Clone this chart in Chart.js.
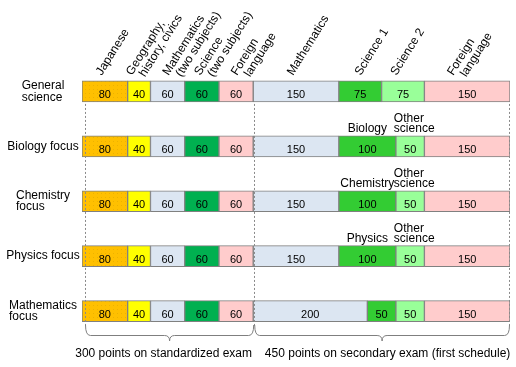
<!DOCTYPE html>
<html><head><meta charset="utf-8">
<script src="https://cdn.jsdelivr.net/npm/chart.js@4.4.1/dist/chart.umd.min.js"></script>
<style>html,body{margin:0;padding:0;background:#fff;}#wrap{width:516px;height:367px;}</style>
</head><body><div id="wrap"><canvas id="c"></canvas></div>
<script>
// ---- data ----
const categories = [["General","science"],["Biology focus"],["Chemistry","focus"],["Physics focus"],["Mathematics","focus"]];
const subjects = ["Japanese","Geography,\nhistory, civics","Mathematics\n(two subjects)","Science\n(two subjects)","Foreign\nlanguage","Mathematics","Science 1","Science 2","Foreign\nlanguage"];
const japanese   = [80,80,80,80,80];
const geography  = [40,40,40,40,40];
const mathCommon = [60,60,60,60,60];
const sciCommon  = [60,60,60,60,60];
const forCommon  = [60,60,60,60,60];
const mathSecond = [150,150,150,150,200];
const sciFirst   = [75,100,100,100,50];
const sciSecond  = [75,50,50,50,50];
const forSecond  = [150,150,150,150,150];
const sciFirstNames  = ["","Biology","Chemistry","Physics",""];
const sciSecondNames = ["","Other\nscience","Other\nscience","Other\nscience",""];
const groupTotals = [300,450];
const groupLabels = ["300 points on standardized exam","450 points on secondary exam (first schedule)"];

// ---- styles ----
const FONT = "'Liberation Sans', Arial, sans-serif";
const topLabelDx = [-3,-7,1,-1.5,1,-3,0.5,-6.5,-14];
function makePattern(){
  const c=document.createElement('canvas'); c.width=4; c.height=4;
  const g=c.getContext('2d'); g.fillStyle='#FFC000'; g.fillRect(0,0,4,4);
  g.fillStyle='#EDB200'; g.fillRect(1,1,1,1);
  return g.createPattern(c,'repeat');
}
const series = [japanese,geography,mathCommon,sciCommon,forCommon,mathSecond,sciFirst,sciSecond,forSecond];
const colors = [makePattern(),'#FFFF00','#DCE6F2','#00B050','#FFCCCC','#DCE6F2','#33CC33','#99FF99','#FFCCCC'];

const overlay = {
  id:'overlay',
  afterDatasetsDraw(chart){
    const ctx = chart.ctx, xs = chart.scales.x;
    ctx.save();
    // value labels
    ctx.fillStyle='#000'; ctx.font='11px '+FONT; ctx.textAlign='center'; ctx.textBaseline='alphabetic';
    series.forEach((s,i)=>{
      chart.getDatasetMeta(i).data.forEach((el,j)=>{
        const p = el.getProps(['x','base','y','height'],true);
        ctx.fillText(String(s[j]), (p.x+p.base)/2, p.y+7);
      });
    });
    // science sub labels
    ctx.font='12px '+FONT;
    const m1 = chart.getDatasetMeta(6), m2 = chart.getDatasetMeta(7);
    sciFirstNames.forEach((n,j)=>{
      if(!n) return;
      const p = m1.data[j].getProps(['x','base','y','height'],true);
      ctx.textAlign='center';
      ctx.fillText(n,(p.x+p.base)/2, p.y-p.height/2-4);
    });
    sciSecondNames.forEach((n,j)=>{
      if(!n) return;
      const p = m2.data[j].getProps(['x','base','y','height'],true);
      const lines = n.split('\n'); ctx.textAlign='left';
      lines.forEach((l,k)=>{ ctx.fillText(l, Math.min(p.x,p.base)-2, p.y-p.height/2-3.5-(lines.length-1-k)*10.5); });
    });
    // rotated top labels
    ctx.font='12px '+FONT; ctx.textAlign='left'; ctx.textBaseline='alphabetic';
    subjects.forEach((t,i)=>{
      const p = chart.getDatasetMeta(i).data[0].getProps(['x','base','y','height'],true);
      const cx=(p.x+p.base)/2+topLabelDx[i], by=p.y-p.height/2-5;
      t.split('\n').forEach((l,k)=>{
        ctx.save(); ctx.translate(cx+k*13, by+k*1.5); ctx.rotate(-58*Math.PI/180);
        ctx.fillText(l,0,0); ctx.restore();
      });
    });
    // row labels
    ctx.textBaseline='middle';
    const m0 = chart.getDatasetMeta(0);
    categories.forEach((lines,j)=>{
      const p = m0.data[j].getProps(['y'],true);
      const w = Math.max(...lines.map(l=>ctx.measureText(l).width));
      lines.forEach((l,k)=>ctx.fillText(l, 43-w/2, p.y+(k-(lines.length-1)/2)*11.5));
    });
    // dashed lines and braces
    const firstBar = m0.data[0].getProps(['y','height'],true);
    const x0 = xs.getPixelForValue(0)+3, x1 = xs.getPixelForValue(groupTotals[0])+1, x2 = xs.getPixelForValue(groupTotals[0]+groupTotals[1])-1;
    ctx.strokeStyle='#8a8a8a'; ctx.lineWidth=1; ctx.setLineDash([2,2]);
    [x0,x1,x2].forEach(x=>{ ctx.beginPath(); ctx.moveTo(Math.round(x)+0.5, firstBar.y+firstBar.height/2+2); ctx.lineTo(Math.round(x)+0.5, 327); ctx.stroke(); });
    ctx.setLineDash([]); ctx.strokeStyle='#7f7f7f';
    function brace(a,b){
      const yT=325, yM=335.5, yP=341, r=5, m=(a+b)/2;
      ctx.beginPath(); ctx.moveTo(a,yT); ctx.quadraticCurveTo(a,yM,a+r,yM); ctx.lineTo(m-r,yM);
      ctx.quadraticCurveTo(m,yM,m,yP); ctx.quadraticCurveTo(m,yM,m+r,yM); ctx.lineTo(b-r,yM);
      ctx.quadraticCurveTo(b,yM,b,yT); ctx.stroke();
    }
    brace(x0+0.5,x1-0.5); brace(x1+0.5,x2+0.5);
    ctx.fillStyle='#000'; ctx.textAlign='center'; ctx.textBaseline='alphabetic';
    ctx.fillText(groupLabels[0], (x0+x1)/2-6, 357);
    ctx.fillText(groupLabels[1], (x1+x2)/2+6, 357);
    ctx.restore();
  }
};

new Chart(document.getElementById('c'),{
  type:'bar',
  data:{
    labels: categories.map(c=>c.join(' ')),
    datasets: series.map((s,i)=>({label:subjects[i], data:s, backgroundColor:colors[i], borderColor:'#808080', borderWidth:1, borderSkipped:false, barThickness:21}))
  },
  options:{
    indexAxis:'y', responsive:true, maintainAspectRatio:false, animation:false,
    layout:{padding:{left:82,right:6,top:64,bottom:28.5}},
    plugins:{legend:{display:false},tooltip:{enabled:false}},
    scales:{
      x:{stacked:true,min:0,max:750,display:false},
      y:{stacked:true,display:false}
    }
  },
  plugins:[overlay]
});
</script>
</body></html>
